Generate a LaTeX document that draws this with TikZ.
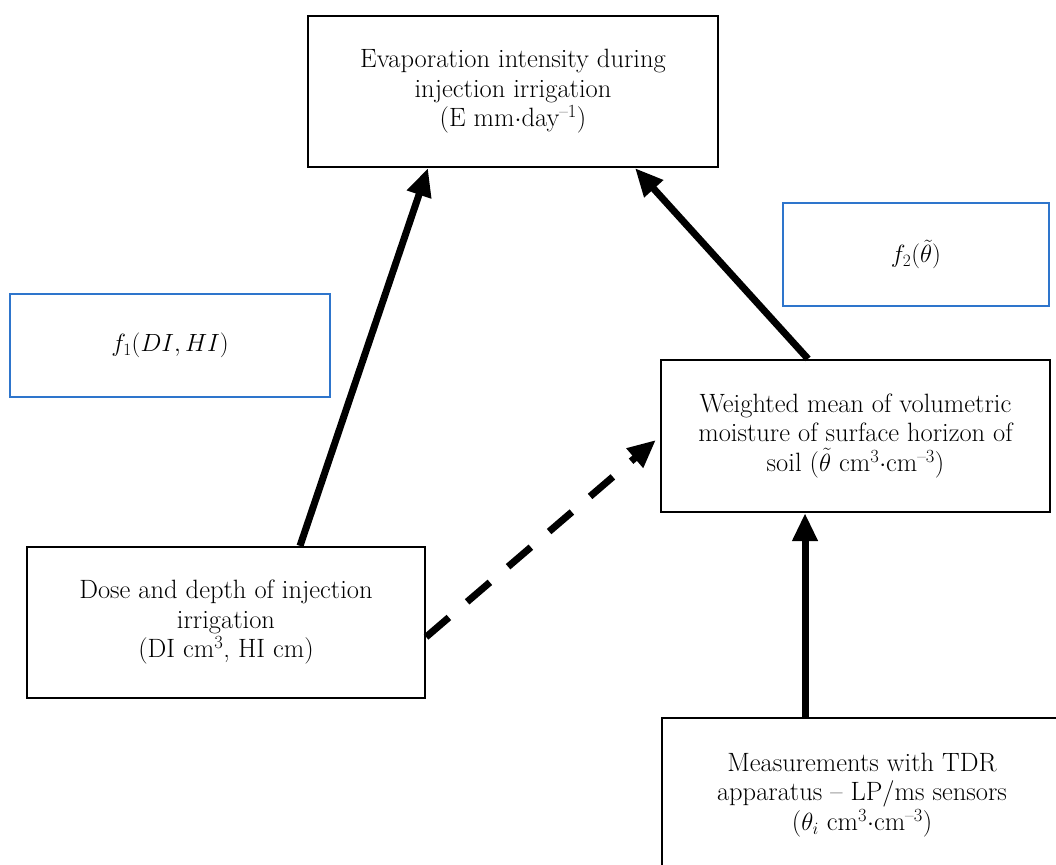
\documentclass[tikz,border=0pt]{standalone}
\usetikzlibrary{arrows.meta}
\definecolor{boxblue}{RGB}{46,117,204}
\begin{document}
\begin{tikzpicture}[x=1pt,y=1pt,
  txtbox/.style={draw=black,line width=2.2pt,align=center,inner sep=0pt,
     font=\fontsize{26.5}{29.5}\selectfont},
  fbox/.style={draw=boxblue,line width=2.2pt,align=center,inner sep=0pt,
     font=\fontsize{25}{29}\selectfont},
  bigarrow/.style={line width=7pt,-{Triangle[length=28pt,width=24pt]}},
  dasharrow/.style={line width=7pt,dash pattern=on 30pt off 24pt,-{Triangle[length=28pt,width=24pt]}}
]
\useasboundingbox (0,0) rectangle (1056,864);
\clip (0,0) rectangle (1056,864);
\fill[white] (0,0) rectangle (1056,864);

\node[txtbox,minimum width=410pt,minimum height=151pt] (E) at (513,772.5)
  {Evaporation intensity during\\injection irrigation\\(E mm$\cdot$day\textsuperscript{--1})};
\node[fbox,minimum width=266pt,minimum height=103pt] (F2) at (916,609.5)
  {$f_2\bigl(\tilde\theta\bigr)$};
\node[fbox,minimum width=320pt,minimum height=103pt] (F1) at (170,518.5)
  {$f_1(DI,HI)$};
\node[txtbox,minimum width=389pt,minimum height=152pt] (W) at (855.5,428)
  {Weighted mean of volumetric\\moisture of surface horizon of\\soil ($\tilde\theta$ cm\textsuperscript{3}$\cdot$cm\textsuperscript{--3})};
\node[txtbox,minimum width=398pt,minimum height=151pt] (D) at (226,241.5)
  {Dose and depth of injection\\irrigation\\(DI cm\textsuperscript{3}, HI cm)};
\draw[line width=2.2pt] (662,-20) -- (662,146) -- (1080,146);
\node[align=center,inner sep=0pt,font=\fontsize{26.5}{29.5}\selectfont] (M) at (862,69)
  {Measurements with TDR\\apparatus -- LP/ms sensors\\($\theta_i$ cm\textsuperscript{3}$\cdot$cm\textsuperscript{--3})};
\coordinate (Mtop) at (805,146);

\draw[bigarrow] ([xshift=74pt]D.north) -- ([xshift=-85pt]E.south);
\draw[bigarrow] ([xshift=-47.5pt]W.north) -- ([xshift=122pt]E.south);
\draw[dasharrow] ([yshift=-14.5pt]D.east) -- ([xshift=-4pt,yshift=-4pt]W.west);
\draw[bigarrow] (Mtop) -- (Mtop |- W.south);
\end{tikzpicture}
\end{document}
